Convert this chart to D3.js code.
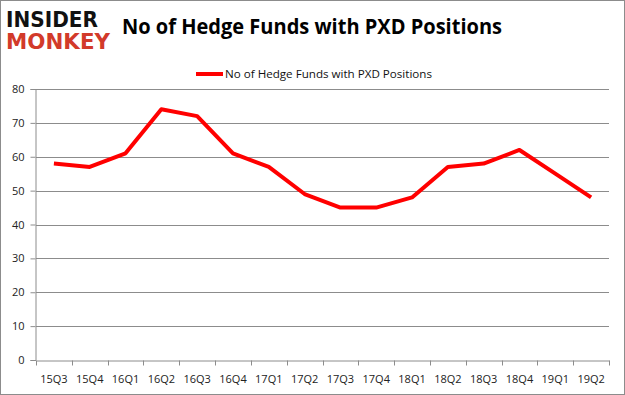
<!DOCTYPE html>
<html>
<head>
<meta charset="utf-8">
<script src="https://cdn.jsdelivr.net/npm/d3@7"></script>
<style>
body { margin: 0; background: #fff; }
svg { display: block; }
</style>
</head>
<body>
<div id="chart"></div>
<script>
var quarters = ["15Q3", "15Q4", "16Q1", "16Q2", "16Q3", "16Q4", "17Q1", "17Q2",
                "17Q3", "17Q4", "18Q1", "18Q2", "18Q3", "18Q4", "19Q1", "19Q2"];
var funds = [58, 57, 61, 74, 72, 61, 57, 49, 45, 45, 48, 57, 58, 62, 55, 48];
var yTicks = [0, 10, 20, 30, 40, 50, 60, 70, 80];
var title = "No of Hedge Funds with PXD Positions";

var width = 625, height = 395;
var font = "'Open Sans', 'DejaVu Sans', sans-serif";

var svg = d3.select("#chart").append("svg")
    .attr("width", width)
    .attr("height", height);

// outer frame
svg.append("rect")
    .attr("x", 0.5).attr("y", 0.5)
    .attr("width", width - 1).attr("height", height - 1)
    .attr("fill", "#fff")
    .attr("stroke", "#8c8c8c");

// logo
svg.append("text")
    .attr("x", 6).attr("y", 27)
    .attr("textLength", 92).attr("lengthAdjust", "spacingAndGlyphs")
    .style("font-family", "'DejaVu Sans', sans-serif")
    .style("font-weight", "bold").style("font-size", "21px")
    .attr("fill", "#111")
    .text("INSIDER");
svg.append("text")
    .attr("x", 6).attr("y", 49)
    .attr("textLength", 104).attr("lengthAdjust", "spacingAndGlyphs")
    .style("font-family", "'DejaVu Sans', sans-serif")
    .style("font-weight", "bold").style("font-size", "21px")
    .attr("fill", "#d23a2a")
    .text("MONKEY");

svg.append("text")
    .attr("x", 122).attr("y", 34)
    .attr("textLength", 380).attr("lengthAdjust", "spacingAndGlyphs")
    .style("font-family", font)
    .style("font-weight", "bold").style("font-size", "21px")
    .attr("fill", "#000")
    .text(title);

// legend
svg.append("line")
    .attr("x1", 196).attr("x2", 223)
    .attr("y1", 74).attr("y2", 74)
    .attr("stroke", "#ff0000").attr("stroke-width", 4);
svg.append("text")
    .attr("x", 225).attr("y", 78)
    .attr("textLength", 207).attr("lengthAdjust", "spacingAndGlyphs")
    .style("font-family", font).style("font-size", "11px")
    .attr("fill", "#111")
    .text(title);

var x = d3.scaleBand().domain(quarters).range([36, 609]);
var y = d3.scaleLinear().domain([0, 80]).range([360, 89]);

// grid
svg.selectAll(".grid")
    .data(yTicks.slice(1))
    .enter().append("line")
    .attr("x1", 36).attr("x2", 609)
    .attr("y1", function(d){ return Math.round(y(d)) + 0.5; })
    .attr("y2", function(d){ return Math.round(y(d)) + 0.5; })
    .attr("stroke", "#8c8c8c");

var yAxis = svg.append("g")
    .attr("transform", "translate(35.5,0)")
    .call(d3.axisLeft(y).tickValues(yTicks).tickSize(5).tickPadding(6));
var xAxis = svg.append("g")
    .attr("transform", "translate(0,360.5)")
    .call(d3.axisBottom(x).tickSize(0).tickPadding(15));

// boundary ticks on the category axis
xAxis.selectAll(".bound")
    .data(d3.range(quarters.length + 1))
    .enter().append("line")
    .attr("x1", function(i){ return Math.round(36 + i * x.step()) + 0.5; })
    .attr("x2", function(i){ return Math.round(36 + i * x.step()) + 0.5; })
    .attr("y1", 0).attr("y2", 5)
    .attr("stroke", "#8c8c8c");

[yAxis, xAxis].forEach(function(a){
    a.select(".domain").attr("stroke", "#8c8c8c");
    a.selectAll(".tick line").attr("stroke", "#8c8c8c");
    a.selectAll("text")
        .style("font-family", font).style("font-size", "11px")
        .attr("fill", "#222");
});

var line = d3.line()
    .x(function(d, i){ return x(quarters[i]) + x.bandwidth() / 2; })
    .y(function(d){ return y(d); });

svg.append("path")
    .datum(funds)
    .attr("d", line)
    .attr("fill", "none")
    .attr("stroke", "#ff0000")
    .attr("stroke-width", 4)
    .attr("stroke-linejoin", "round");
</script>
</body>
</html>
